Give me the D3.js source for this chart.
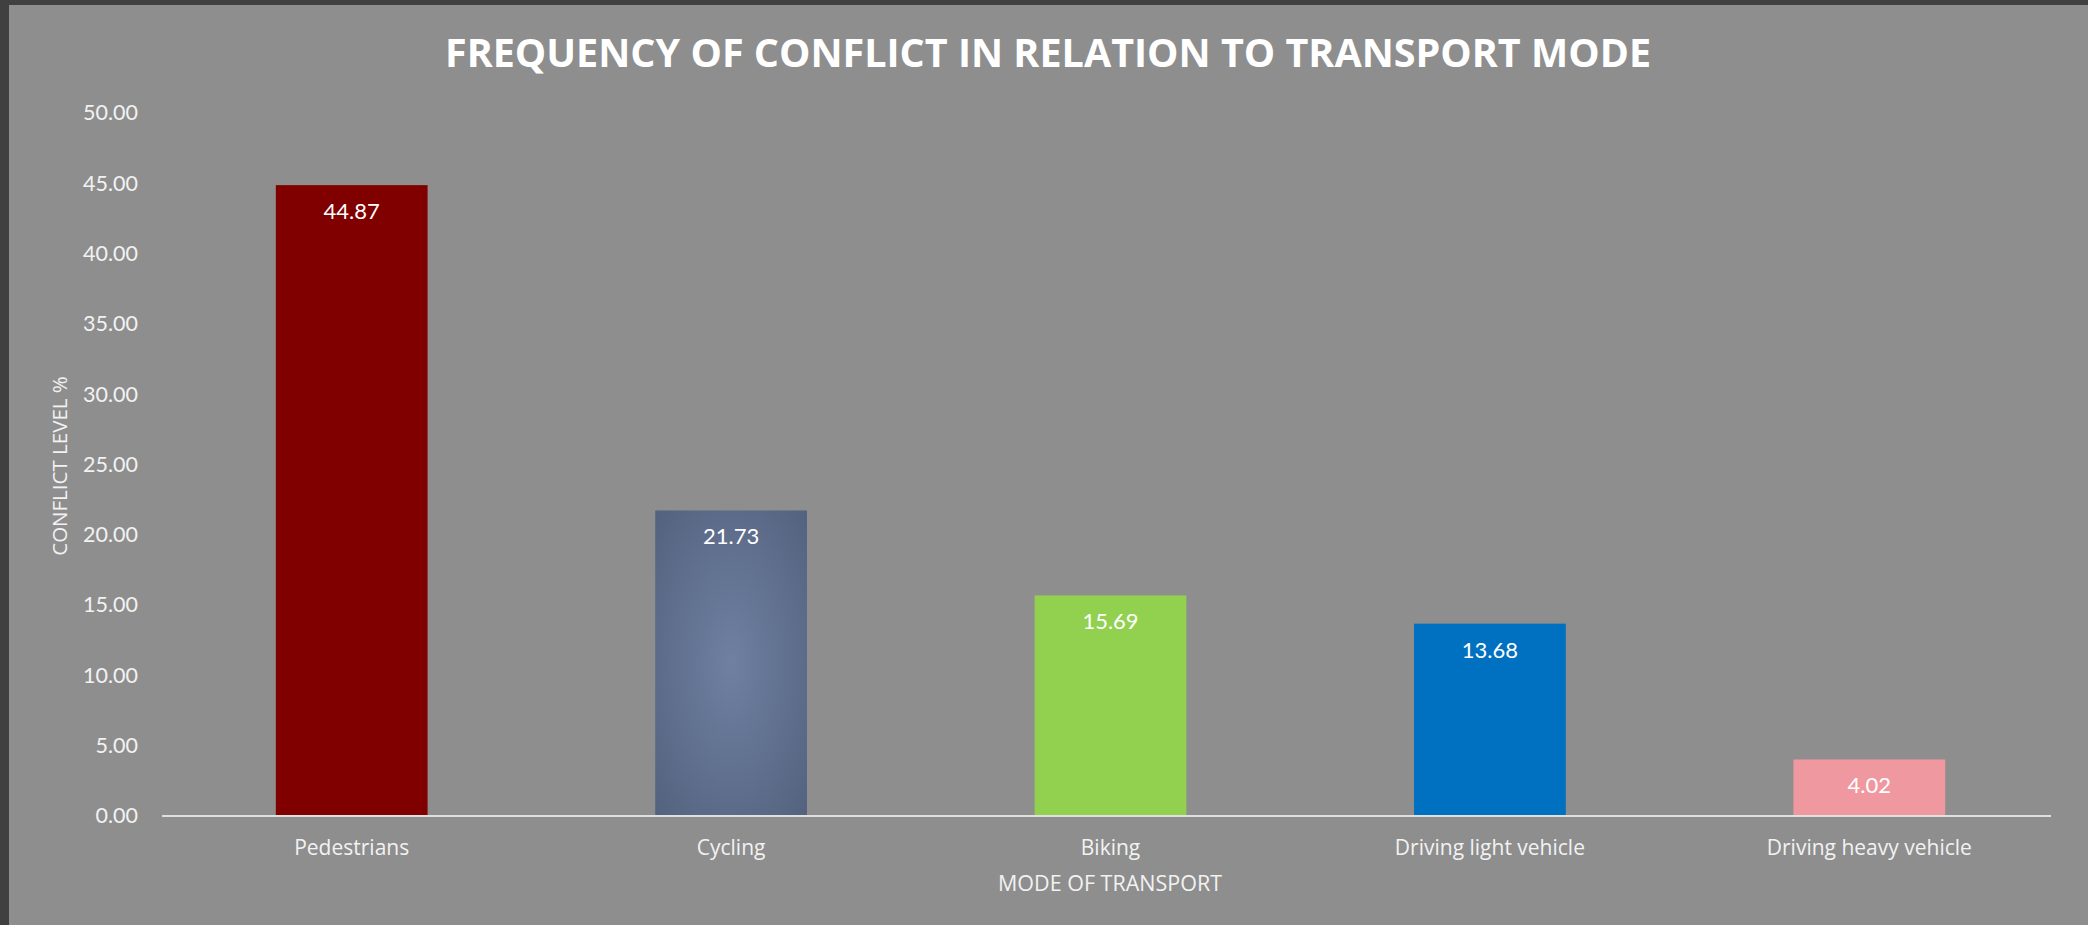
<!DOCTYPE html>
<html>
<head>
<meta charset="utf-8">
<script src="https://cdn.jsdelivr.net/npm/d3@7"></script>
<style>
  html, body { margin: 0; padding: 0; background: #404040; }
  svg { display: block; }
</style>
</head>
<body>
<div id="chart"></div>
<script>
// data
const categories = ['Pedestrians', 'Cycling', 'Biking', 'Driving light vehicle', 'Driving heavy vehicle'];
const conflictLevel = [44.87, 21.73, 15.69, 13.68, 4.02];
const yTicks = [0, 5, 10, 15, 20, 25, 30, 35, 40, 45, 50];
const barColors = ['#800000', 'url(#cyclingFill)', '#92d050', '#0070c0', '#f0989f'];

const width = 2088, height = 925;
const margin = { top: 113, right: 29, bottom: 109, left: 162 };
const axisEnd = 2051;

const svg = d3.select('#chart').append('svg')
  .attr('width', width)
  .attr('height', height);

// radial fill on the cycling bar
const grad = svg.append('defs').append('radialGradient')
  .attr('id', 'cyclingFill')
  .attr('cx', '50%').attr('cy', '50%').attr('r', '75%');
grad.append('stop').attr('offset', '0%').attr('stop-color', '#6f80a1');
grad.append('stop').attr('offset', '100%').attr('stop-color', '#51607c');

// plot area background
svg.append('rect')
  .attr('x', 9).attr('y', 5)
  .attr('width', width - 9).attr('height', height - 5)
  .attr('fill', '#8e8e8e');

const xScale = d3.scaleBand()
  .domain(categories)
  .range([margin.left, width - margin.right])
  .paddingInner(0.6)
  .paddingOuter(0.3);

const yScale = d3.scaleLinear()
  .domain([0, 50])
  .range([height - margin.bottom, margin.top]);

const data = categories.map((c, i) => ({ cat: c, val: conflictLevel[i], color: barColors[i] }));

// bars
svg.append('g')
  .selectAll('rect')
  .data(data)
  .enter()
  .append('rect')
  .attr('x', d => xScale(d.cat))
  .attr('y', d => yScale(d.val))
  .attr('width', xScale.bandwidth())
  .attr('height', d => yScale(0) - yScale(d.val))
  .attr('fill', d => d.color);

// value labels inside bars
svg.append('g')
  .selectAll('text')
  .data(data)
  .enter()
  .append('text')
  .attr('x', d => xScale(d.cat) + xScale.bandwidth() / 2)
  .attr('y', d => yScale(d.val) + 34)
  .attr('text-anchor', 'middle')
  .attr('fill', '#ffffff')
  .style('font-family', 'Lato, "Open Sans", sans-serif')
  .style('font-size', '22px')
  .text(d => d3.format('.2f')(d.val));

// y axis (labels only)
const yAxis = d3.axisLeft(yScale)
  .tickValues(yTicks)
  .tickFormat(d3.format('.2f'))
  .tickSize(0)
  .tickPadding(0);

const yAxisGroup = svg.append('g')
  .attr('class', 'axis y-axis')
  .attr('transform', 'translate(138, 0)')
  .call(yAxis);
yAxisGroup.select('.domain').remove();
yAxisGroup.selectAll('text')
  .attr('fill', '#f2f2f2')
  .style('font-family', 'Lato, "Open Sans", sans-serif')
  .style('font-size', '21.5px');

// x axis
const xAxis = d3.axisBottom(xScale).tickSize(0).tickPadding(24);
const xAxisGroup = svg.append('g')
  .attr('class', 'axis x-axis')
  .attr('transform', `translate(0, ${yScale(0)})`)
  .call(xAxis);
xAxisGroup.select('.domain').remove();
xAxisGroup.append('line')
  .attr('x1', margin.left)
  .attr('x2', axisEnd)
  .attr('stroke', '#e0e0e0')
  .attr('stroke-width', 2);
xAxisGroup.selectAll('text')
  .attr('fill', '#f2f2f2')
  .style('font-family', '"Open Sans", sans-serif')
  .style('font-size', '21px');

// title
svg.append('text')
  .attr('x', 1048)
  .attr('y', 67)
  .attr('text-anchor', 'middle')
  .attr('fill', '#ffffff')
  .style('font-family', '"Open Sans", sans-serif')
  .style('font-weight', 'bold')
  .style('font-size', '39.5px')
  .text('FREQUENCY OF CONFLICT IN RELATION TO TRANSPORT MODE');

// x axis title
svg.append('text')
  .attr('x', 1110)
  .attr('y', 891)
  .attr('text-anchor', 'middle')
  .attr('fill', '#f2f2f2')
  .style('font-family', '"Open Sans", sans-serif')
  .style('font-size', '21.5px')
  .text('MODE OF TRANSPORT');

// y axis title
svg.append('text')
  .attr('transform', 'translate(67, 466) rotate(-90)')
  .attr('text-anchor', 'middle')
  .attr('fill', '#f2f2f2')
  .style('font-family', '"Open Sans", sans-serif')
  .style('font-size', '20.5px')
  .text('CONFLICT LEVEL %');
</script>
</body>
</html>
